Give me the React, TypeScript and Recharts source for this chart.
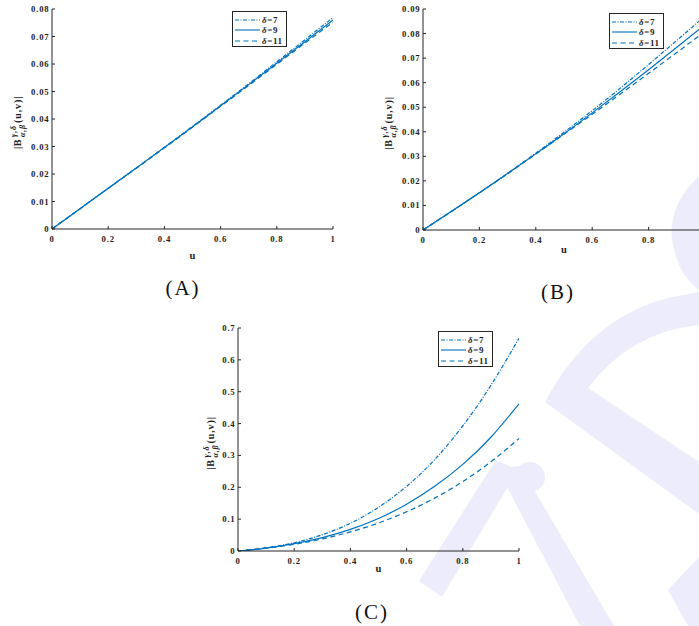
import { LineChart, Line, XAxis, YAxis, Legend } from "recharts";

// sample points along u, shared by all three panels
const U = [0, 0.1, 0.2, 0.3, 0.4, 0.5, 0.6, 0.7, 0.8, 0.9, 1];
const X_TICKS = [0, 0.2, 0.4, 0.6, 0.8, 1];
// panel (B) is cut at the right edge of the page, its "1" label is not visible
const B_X_TICKS = [0, 0.2, 0.4, 0.6, 0.8];
const SERIES_NAMES = ["δ=7", "δ=9", "δ=11"];

// panel (A)
const A_D7 = [0, 0.0074, 0.0148, 0.0222, 0.0297, 0.0373, 0.045, 0.0528, 0.0608, 0.0688, 0.0769];
const A_D9 = [0, 0.0074, 0.0148, 0.0222, 0.0296, 0.0372, 0.0448, 0.0525, 0.0603, 0.0681, 0.076];
const A_D11 = [0, 0.0074, 0.0148, 0.0221, 0.0295, 0.037, 0.0446, 0.0522, 0.0599, 0.0676, 0.0752];
const A_Y_TICKS = [0, 0.01, 0.02, 0.03, 0.04, 0.05, 0.06, 0.07, 0.08];

// panel (B)
const B_D7 = [0, 0.0075, 0.0152, 0.0231, 0.0313, 0.0398, 0.0486, 0.0578, 0.0674, 0.0772, 0.0871];
const B_D9 = [0, 0.0075, 0.0152, 0.023, 0.031, 0.0392, 0.0477, 0.0564, 0.0653, 0.0744, 0.0836];
const B_D11 = [0, 0.0075, 0.0151, 0.0229, 0.0309, 0.039, 0.0471, 0.0554, 0.0638, 0.0723, 0.0808];
const B_Y_TICKS = [0, 0.01, 0.02, 0.03, 0.04, 0.05, 0.06, 0.07, 0.08, 0.09];

// panel (C)
const C_D7 = [0, 0.01, 0.026, 0.051, 0.087, 0.137, 0.203, 0.287, 0.393, 0.52, 0.668];
const C_D9 = [0, 0.009, 0.023, 0.042, 0.068, 0.102, 0.147, 0.203, 0.272, 0.357, 0.462];
const C_D11 = [0, 0.009, 0.021, 0.038, 0.06, 0.088, 0.123, 0.166, 0.218, 0.28, 0.353];
const C_Y_TICKS = [0, 0.1, 0.2, 0.3, 0.4, 0.5, 0.6, 0.7];

const BLUE = "#0072BD";
const AXIS = "#262626";
const TEXT = "#1e1e1e";
const SERIF = '"Liberation Serif", "Times New Roman", serif';
const DASHES = ["4 1.5 1 1.5", "0", "5 3.5"];
const TICK = 3;
const WASH = "#ececfb";

const LEFT_W = 60;
const TOP_M = 10;
const RIGHT_M = 10;
const BOTTOM_H = 45;

const tickText = {
  fontFamily: SERIF,
  fontWeight: 700,
  fontSize: 8.7,
  letterSpacing: 0.8,
  fill: TEXT,
};

const BottomTick = (props: any) => {
  const { x, y, payload } = props;
  return (
    <g>
      <line x1={x} y1={y} x2={x} y2={y - TICK} stroke={AXIS} />
      <text x={x} y={y + 12.5} textAnchor="middle" {...tickText}>
        {payload.value}
      </text>
    </g>
  );
};

const LeftTick = (props: any) => {
  const { x, y, payload } = props;
  return (
    <g>
      <line x1={x} y1={y} x2={x + TICK} y2={y} stroke={AXIS} />
      <text x={x - 2.5} y={y + 3} textAnchor="end" {...tickText}>
        {payload.value}
      </text>
    </g>
  );
};

const TopTick = (props: any) => {
  const { x, y } = props;
  return <line x1={x} y1={y} x2={x} y2={y + TICK} stroke={AXIS} />;
};

const RightTick = (props: any) => {
  const { x, y } = props;
  return <line x1={x} y1={y} x2={x - TICK} y2={y} stroke={AXIS} />;
};

function YTitle({ viewBox, gap }: any) {
  const cx = viewBox.x + viewBox.width - gap;
  const cy = viewBox.y + viewBox.height / 2;
  const base = { fontFamily: SERIF, fontWeight: 700, fill: TEXT };
  return (
    <g transform={`translate(${cx},${cy}) rotate(-90)`}>
      <text x={-30} y={3.5} fontSize={10} letterSpacing={0.6} {...base}>
        |B
      </text>
      <text x={-18} y={-1} fontSize={8} fontStyle="italic" letterSpacing={0.8} {...base}>
        γ,δ
      </text>
      <text x={-18} y={7.5} fontSize={8} fontStyle="italic" letterSpacing={0.8} {...base}>
        α,β
      </text>
      <text x={-4} y={3.5} fontSize={10} letterSpacing={0.9} {...base}>
        (u,v)|
      </text>
    </g>
  );
}

function LegendBox(props: any) {
  // keep the series order (δ=7, δ=9, δ=11) rather than the alphabetical one
  const items = [...(props.payload || [])].sort(
    (a: any, b: any) => SERIES_NAMES.indexOf(String(a.value)) - SERIES_NAMES.indexOf(String(b.value))
  );
  return (
    <div
      style={{
        width: 55,
        height: 36,
        boxSizing: "border-box",
        border: `1px solid ${AXIS}`,
        background: "#fff",
        padding: "3px 0 0 2px",
      }}
    >
      {items.map((p: any) => {
        const name = String(p.value);
        const i = SERIES_NAMES.indexOf(name);
        return (
          <div key={name} style={{ display: "flex", alignItems: "center", height: 10.3 }}>
            <svg width={25} height={6} style={{ display: "block" }}>
              <line
                x1={0}
                y1={3}
                x2={25}
                y2={3}
                stroke={BLUE}
                strokeWidth={1.1}
                strokeDasharray={DASHES[i]}
              />
            </svg>
            <span
              style={{
                marginLeft: 2,
                fontFamily: SERIF,
                fontWeight: 700,
                fontSize: 9,
                letterSpacing: 0.6,
                color: TEXT,
                lineHeight: "10px",
              }}
            >
              <i>{name[0]}</i>
              {name.slice(1)}
            </span>
          </div>
        );
      })}
    </div>
  );
}

interface PanelProps {
  d7: number[];
  d9: number[];
  d11: number[];
  xTicks: number[];
  yTicks: number[];
  left: number;
  top: number;
  plotW: number;
  plotH: number;
  legendX: number;
  legendY: number;
  titleGap: number;
  uDy: number;
}

function Panel({ d7, d9, d11, xTicks, yTicks, left, top, plotW, plotH, legendX, legendY, titleGap, uDy }: PanelProps) {
  const rows = U.map((u, i) => ({ u, d7: d7[i], d9: d9[i], d11: d11[i] }));
  const yMax = yTicks[yTicks.length - 1];
  const originX = left - LEFT_W;
  const originY = top - TOP_M;
  const keys = ["d7", "d9", "d11"];

  return (
    <div style={{ position: "absolute", left: originX, top: originY }}>
      <LineChart
        width={plotW + LEFT_W + RIGHT_M}
        height={plotH + TOP_M + BOTTOM_H}
        data={rows}
        margin={{ top: TOP_M, right: RIGHT_M, bottom: 0, left: 0 }}
      >
        <XAxis
          dataKey="u"
          type="number"
          domain={[0, 1]}
          ticks={xTicks}
          allowDataOverflow
          height={BOTTOM_H}
          axisLine={{ stroke: AXIS }}
          tickLine={false}
          tickSize={0}
          tickMargin={0}
          tick={BottomTick}
          interval={0}
          label={(p: any) => (
            <text
              x={p.viewBox.x + p.viewBox.width / 2}
              y={p.viewBox.y + uDy + 3.5}
              textAnchor="middle"
              fontFamily={SERIF}
              fontWeight={700}
              fontSize={10.5}
              fill={TEXT}
            >
              u
            </text>
          )}
        />
        <XAxis
          xAxisId="top"
          orientation="top"
          dataKey="u"
          type="number"
          domain={[0, 1]}
          ticks={xTicks}
          allowDataOverflow
          height={0}
          axisLine={{ stroke: AXIS }}
          tickLine={false}
          tickSize={0}
          tickMargin={0}
          tick={TopTick}
          interval={0}
        />
        <YAxis
          type="number"
          domain={[0, yMax]}
          ticks={yTicks}
          allowDataOverflow
          width={LEFT_W}
          axisLine={{ stroke: AXIS }}
          tickLine={false}
          tickSize={0}
          tickMargin={0}
          tick={LeftTick}
          interval={0}
          label={(p: any) => <YTitle viewBox={p.viewBox} gap={titleGap} />}
        />
        <YAxis
          yAxisId="right"
          orientation="right"
          type="number"
          domain={[0, yMax]}
          ticks={yTicks}
          allowDataOverflow
          width={0}
          axisLine={{ stroke: AXIS }}
          tickLine={false}
          tickSize={0}
          tickMargin={0}
          tick={RightTick}
          interval={0}
        />
        <Legend
          layout="horizontal"
          verticalAlign="middle"
          align="center"
          content={LegendBox}
          wrapperStyle={{
            left: legendX - originX,
            top: legendY - originY,
            width: "auto",
            right: "auto",
            bottom: "auto",
          }}
        />
        {keys.map((k, i) => (
          <Line
            key={k}
            dataKey={k}
            name={SERIES_NAMES[i]}
            type="natural"
            stroke={BLUE}
            strokeWidth={1.2}
            strokeDasharray={DASHES[i]}
            dot={false}
            activeDot={false}
            isAnimationActive={false}
          />
        ))}
      </LineChart>
    </div>
  );
}

function Watermark() {
  return (
    <svg width={699} height={626} style={{ position: "absolute", left: 0, top: 0 }}>
      <path d="M699,176 Q668,205 672,240 Q678,275 699,290 Z" fill={WASH} />
      <path d="M545,402 Q590,318 668,298 L699,292 L699,325 Q630,332 588,388 Z" fill={WASH} />
      <path d="M545,402 L588,388 L699,462 L699,514 Z" fill={WASH} />
      <path d="M419,581 L442,597 L518,470 L496,460 Z" fill={WASH} />
      <path d="M497,468 L520,466 L614,626 L580,626 Z" fill={WASH} />
      <circle cx={530} cy={477} r={15} fill={WASH} />
      <path d="M668,590 L699,557 L699,626 L688,626 Z" fill={WASH} />
      {[
        ["(A)", 183, 295],
        ["(B)", 558, 299],
        ["(C)", 372, 619],
      ].map(([t, x, y]) => (
        <text
          key={t as string}
          x={x as number}
          y={y as number}
          textAnchor="middle"
          fontFamily={SERIF}
          fontSize={21}
          letterSpacing={2}
          fill="#111"
        >
          {t}
        </text>
      ))}
    </svg>
  );
}

export default function App() {
  return (
    <div
      style={{
        position: "fixed",
        left: 0,
        top: 0,
        width: 699,
        height: 626,
        overflow: "hidden",
        background: "#fff",
      }}
    >
      <Watermark />
      <Panel
        d7={A_D7}
        d9={A_D9}
        d11={A_D11}
        xTicks={X_TICKS}
        yTicks={A_Y_TICKS}
        left={52}
        top={9}
        plotW={281}
        plotH={220}
        legendX={232}
        legendY={11}
        titleGap={35}
        uDy={26}
      />
      <Panel
        d7={B_D7}
        d9={B_D9}
        d11={B_D11}
        xTicks={B_X_TICKS}
        yTicks={B_Y_TICKS}
        left={423}
        top={9}
        plotW={282}
        plotH={221}
        legendX={609}
        legendY={13}
        titleGap={35}
        uDy={19}
      />
      <Panel
        d7={C_D7}
        d9={C_D9}
        d11={C_D11}
        xTicks={X_TICKS}
        yTicks={C_Y_TICKS}
        left={238}
        top={328}
        plotW={281}
        plotH={223}
        legendX={438}
        legendY={331}
        titleGap={28}
        uDy={17}
      />
    </div>
  );
}
